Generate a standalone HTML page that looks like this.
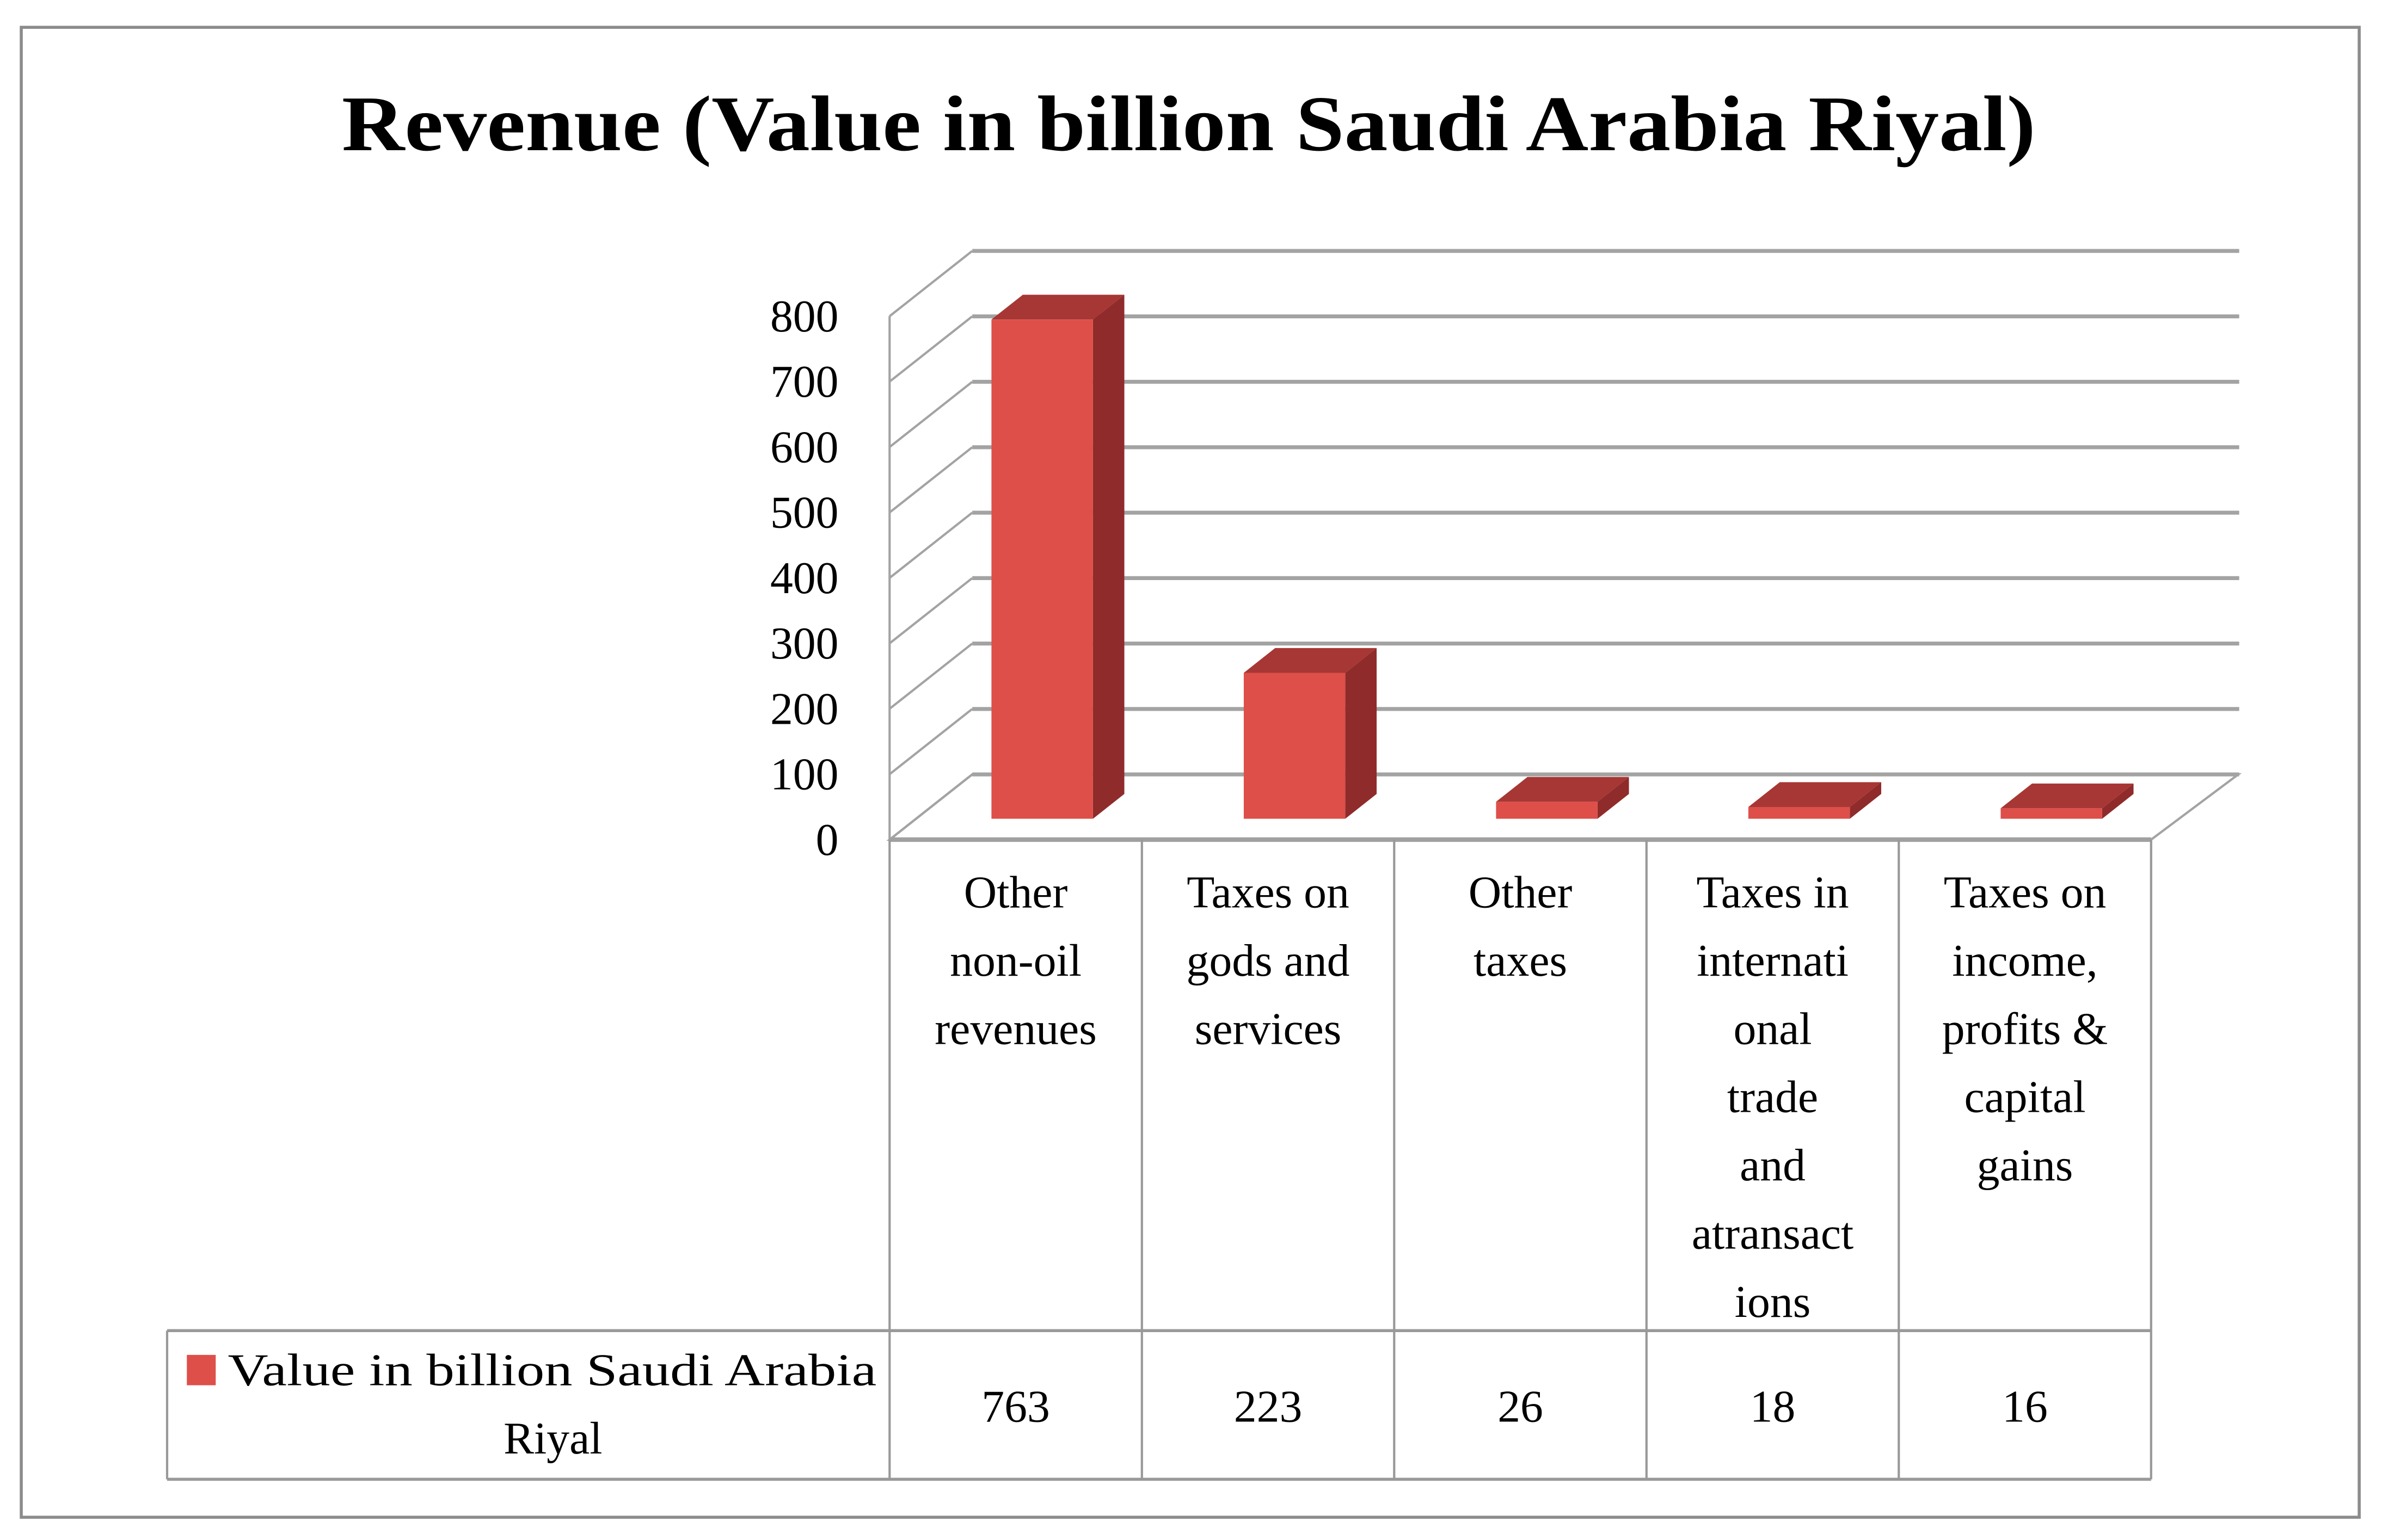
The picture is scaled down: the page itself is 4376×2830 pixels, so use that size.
<!DOCTYPE html>
<html><head><meta charset="utf-8">
<style>
html,body{margin:0;padding:0;background:#fff;}
svg{display:block;}
text{font-family:"Liberation Serif",serif;fill:#000;}
</style></head>
<body>
<svg id="chart" width="4376" height="2830" viewBox="0 0 1568 1015" preserveAspectRatio="none" xmlns="http://www.w3.org/2000/svg">
<rect x="14" y="18" width="1539" height="982" fill="#fff" stroke="#8c8c8c" stroke-width="2"/>
<text x="225" y="99" font-size="52" font-weight="bold" textLength="1115" lengthAdjust="spacingAndGlyphs">Revenue (Value in billion Saudi Arabia Riyal)</text>
<g id="grid"></g>
<g id="bars"></g>
<g id="table"></g>
</svg>
<script>
const categories = [
  ["Other","non-oil","revenues"],
  ["Taxes on","gods and","services"],
  ["Other","taxes"],
  ["Taxes in","internati","onal","trade","and","atransact","ions"],
  ["Taxes on","income,","profits &","capital","gains"]
];
const values = [763, 223, 26, 18, 16];
const yTicks = [0,100,200,300,400,500,600,700,800];
const seriesName = ["Value in billion Saudi Arabia","Riyal"];

const NS="http://www.w3.org/2000/svg";
const X0=585.6, X1=1416, Y0=553.4, UNIT=(553.4-208.4)/800;
const DX=54.4, DY=-43;
const catW=(X1-X0)/categories.length;
function yFront(v){return Y0 - v*UNIT;}
function mk(tag, attrs, parent){const e=document.createElementNS(NS,tag);for(const k in attrs)e.setAttribute(k,attrs[k]);parent.appendChild(e);return e;}
const grid=document.getElementById('grid'), bars=document.getElementById('bars'), table=document.getElementById('table');

yTicks.forEach(function(v){
  const yf=yFront(v), yb=yf+DY;
  const l=mk('line',{x1:X0+DX,y1:yb,x2:1474,y2:yb,stroke:'#a3a3a3','stroke-width':2.6},grid);
  
  
  const s=mk('line',{x1:X0,y1:yf,x2:X0+DX,y2:yb,stroke:'#a3a3a3','stroke-width':1.5},grid);
  
  
  const t=mk('text',{x:552,y:yf+10,'font-size':30,'text-anchor':'end'},grid);
  t.textContent=v;
  
  
});
const ax=mk('line',{x1:X0,y1:Y0,x2:X0,y2:yFront(800),stroke:'#a3a3a3','stroke-width':1.5},grid);


const fl=mk('polygon',{points:[X0,Y0,X1,Y0,X1+DX+3,Y0+DY,X0+DX,Y0+DY].join(' '),fill:'none',stroke:'#a3a3a3','stroke-width':1.5},grid);


const fr=mk('line',{x1:X0,y1:Y0,x2:X1,y2:Y0,stroke:'#a0a0a0','stroke-width':3},grid);



const fF=0.32, fB=0.70, bw=66.8;
values.forEach(function(v,i){
  const xl=X0+i*catW+(catW-bw)/2 + DX*fF, yb=Y0+DY*fF;
  const h=v*UNIT, ddx=DX*(fB-fF), ddy=DY*(fB-fF);
  const g=mk('g',{},bars);
  
  
  mk('polygon',{points:[xl+bw,yb,xl+bw+ddx,yb+ddy,xl+bw+ddx,yb+ddy-h,xl+bw,yb-h].join(' '),fill:'#8f2b2b'},g);
  mk('polygon',{points:[xl,yb-h,xl+bw,yb-h,xl+bw+ddx,yb+ddy-h,xl+ddx,yb+ddy-h].join(' '),fill:'#a73734'},g);
  mk('rect',{x:xl,y:yb-h,width:bw,height:h,fill:'#de4f49'},g);
});

const T1=877, T2=975;
for(let i=0;i<=categories.length;i++){
  const x=X0+i*catW;
  const l=mk('line',{x1:x,y1:Y0,x2:x,y2:T2,stroke:'#999','stroke-width':1.5},table);
  
  
}
mk('line',{x1:110,y1:T1,x2:X1,y2:T1,stroke:'#999','stroke-width':2},table);
mk('line',{x1:110,y1:T2,x2:X1,y2:T2,stroke:'#999','stroke-width':2},table);
mk('line',{x1:110,y1:T1,x2:110,y2:T2,stroke:'#999','stroke-width':1.5},table);
categories.forEach(function(lines,i){
  const cx=X0+(i+0.5)*catW;
  lines.forEach(function(s,j){
    const t=mk('text',{x:cx,y:598+j*45,'font-size':30,'text-anchor':'middle'},table);
    t.textContent=s;
    
    
  });
  const vt=mk('text',{x:cx,y:937,'font-size':30,'text-anchor':'middle'},table);
  vt.textContent=values[i];
  
  
});
const key=mk('rect',{x:123,y:893,width:19,height:20,fill:'#de4f49'},table);


const lt1=mk('text',{x:150,y:913,'font-size':30,textLength:427,lengthAdjust:'spacingAndGlyphs'},table);
lt1.textContent=seriesName[0];


const lt2=mk('text',{x:364,y:958,'font-size':30,'text-anchor':'middle'},table);
lt2.textContent=seriesName[1];


</script>
</body></html>
